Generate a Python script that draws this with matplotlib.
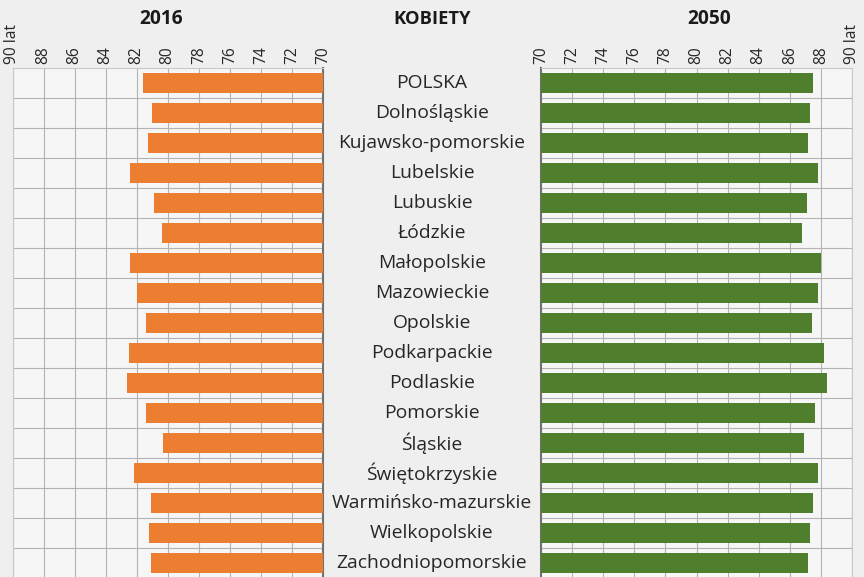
import matplotlib
matplotlib.use("Agg")
import matplotlib.pyplot as plt

categories = ["POLSKA", "Dolnośląskie", "Kujawsko-pomorskie", "Lubelskie", "Lubuskie",
              "Łódzkie", "Małopolskie", "Mazowieckie", "Opolskie", "Podkarpackie",
              "Podlaskie", "Pomorskie", "Śląskie", "Świętokrzyskie",
              "Warmińsko-mazurskie", "Wielkopolskie", "Zachodniopomorskie"]
values_2016 = [81.6, 81.0, 81.3, 82.4, 80.9, 80.4, 82.4, 82.0, 81.4, 82.5,
               82.6, 81.4, 80.3, 82.2, 81.1, 81.2, 81.1]
values_2050 = [87.5, 87.3, 87.2, 87.8, 87.1, 86.8, 88.0, 87.8, 87.4, 88.2,
               88.4, 87.6, 86.9, 87.8, 87.5, 87.3, 87.2]
tick_values = [70, 72, 74, 76, 78, 80, 82, 84, 86, 88, 90]
tick_labels = ["70", "72", "74", "76", "78", "80", "82", "84", "86", "88", "90 lat"]

W, H = 864, 577
fig = plt.figure(figsize=(W / 100, H / 100), dpi=100)
fig.patch.set_facecolor("#efefef")
plt.rcParams['font.family'] = ['Open Sans', 'DejaVu Sans']

top_px, bot_px = 68, 578
ax_h = (bot_px - top_px) / H
ax_b = (H - bot_px) / H

def px_axes(x0, x1):
    return fig.add_axes([x0 / W, ax_b, (x1 - x0) / W, ax_h])

axL = px_axes(12.5, 323)
axR = px_axes(541, 852)
axM = px_axes(323, 541)

n = len(categories)
y = list(range(n))
orange = "#ED7D31"
green = "#4F7F2C"
txt = "#262626"

for ax, vals, col in ((axL, values_2016, orange), (axR, values_2050, green)):
    ax.set_facecolor("#f6f6f6")
    ax.barh(y, [v - 70 for v in vals], left=70, height=0.66, color=col, zorder=3)
    ax.set_ylim(n - 0.5, -0.5)
    ax.set_yticks([i + 0.5 for i in range(n)])
    ax.set_yticklabels([])
    ax.tick_params(axis="y", length=0)
    ax.xaxis.tick_top()
    ax.set_xticks(tick_values)
    ax.set_xticklabels(tick_labels, rotation=90, fontsize=11.2, color=txt)
    ax.tick_params(axis="x", length=0, pad=3)
    ax.grid(True, axis="both", color="#b3b3b3", linewidth=0.8, zorder=0)
    for s in ax.spines.values():
        s.set_color("#c8c8c8")
        s.set_linewidth(0.8)

axL.set_xlim(90, 70)
axR.set_xlim(70, 90)
axL.spines["right"].set_color("#707070")
axL.spines["right"].set_linewidth(1.5)
axR.spines["left"].set_color("#707070")
axR.spines["left"].set_linewidth(1.5)

axM.set_ylim(n - 0.5, -0.5)
axM.set_xlim(0, 1)
axM.axis("off")
for i, c in enumerate(categories):
    axM.text(0.5, i, c, ha="center", va="center", fontsize=13.9, color=txt)

fig.text(161 / W, 1 - 19 / H, "2016", ha="center", va="center", fontsize=13.8,
         fontweight="bold", color="#1a1a1a")
fig.text(432 / W, 1 - 19 / H, "KOBIETY", ha="center", va="center", fontsize=13.2,
         fontweight="bold", color="#1a1a1a")
fig.text(709 / W, 1 - 19 / H, "2050", ha="center", va="center", fontsize=13.8,
         fontweight="bold", color="#1a1a1a")

fig.savefig("out.png", dpi=100, facecolor=fig.get_facecolor())
